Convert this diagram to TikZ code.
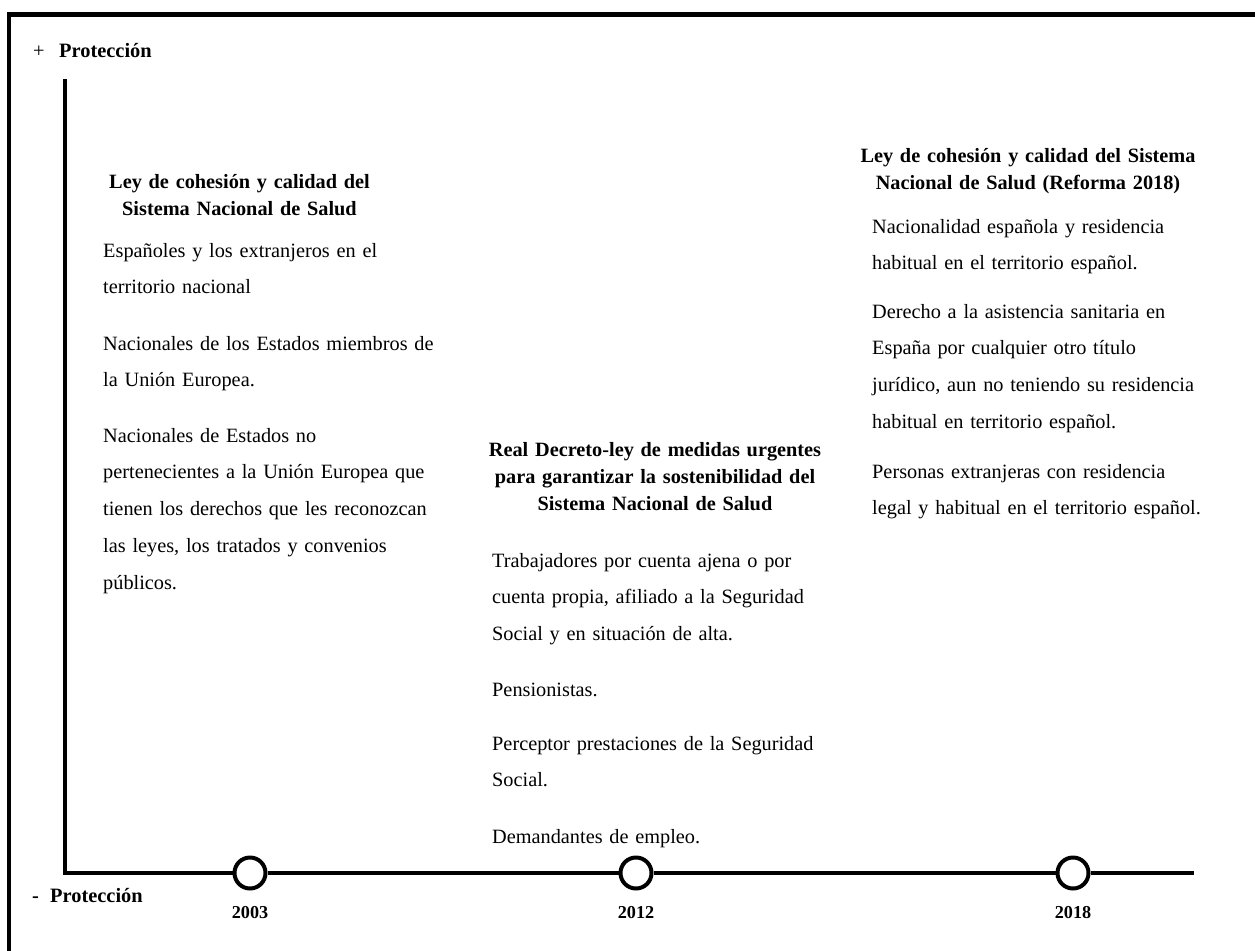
\documentclass[tikz,border=0pt]{standalone}
\usepackage{fontspec}
\setmainfont{Liberation Serif}
\tikzset{
  body/.style={anchor=base west, inner sep=0pt, text width=420pt, align=left,
    font=\fontsize{20.3}{36.8}\selectfont},
  head/.style={anchor=base, inner sep=0pt, text width=420pt, align=center,
    font=\fontsize{20.3}{27.3}\selectfont\bfseries},
  axislbl/.style={anchor=base west, inner sep=0pt, font=\fontsize{20.4}{24}\selectfont\bfseries},
  year/.style={anchor=base, inner sep=0pt, font=\fontsize{18.2}{22}\selectfont\bfseries},
  milestone/.style={circle, draw=black, fill=white, line width=4pt, minimum size=31pt, inner sep=0pt},
  axisline/.style={line width=4pt, line join=miter},
}
\begin{document}
\begin{tikzpicture}[x=1pt, y=-1pt]
\useasboundingbox (0,0) rectangle (1255,950);
% frame
\draw[line width=4.5pt] (9,960) -- (9,14.5) -- (1265,14.5);
% axis labels
\node[axislbl] (plus) at (33,58) {\fontseries{m}\selectfont +};
\node[axislbl] (ptop) at (59,58) {Protección};
\node[axislbl] (minus) at (32,902) {-};
\node[axislbl] (pbot) at (50,902) {Protección};
% axis
\coordinate (ytop) at (65,79);
\coordinate (corner) at (65,873);
\coordinate (xend) at (1194,873);
\node[milestone] (m2003) at (250,873) {};
\node[milestone] (m2012) at (636,873) {};
\node[milestone] (m2018) at (1073,873) {};
\draw[axisline] (ytop) -- (corner) -- (m2003.west);
\draw[axisline] (m2003.east) -- (m2012.west);
\draw[axisline] (m2012.east) -- (m2018.west);
\draw[axisline] (m2018.east) -- (xend);
\node[year] (y2003) at (250,918) {2003};
\node[year] (y2012) at (636,918) {2012};
\node[year] (y2018) at (1073,918) {2018};
% left column
\node[head] (h1) at (239.5,188) {Ley de cohesión y calidad del\\Sistema Nacional de Salud};
\node[body] (l1) at (103,257) {Españoles y los extranjeros en el\\territorio nacional};
\node[body] (l2) at (103,350) {Nacionales de los Estados miembros de\\la Unión Europea.};
\node[body] (l3) at (103,442) {Nacionales de Estados no\\pertenecientes a la Unión Europea que\\tienen los derechos que les reconozcan\\las leyes, los tratados y convenios\\públicos.};
% middle column
\node[head] (h2) at (655,456) {Real Decreto-ley de medidas urgentes\\para garantizar la sostenibilidad del\\Sistema Nacional de Salud};
\node[body] (c1) at (492,567) {Trabajadores por cuenta ajena o por\\cuenta propia, afiliado a la Seguridad\\Social y en situación de alta.};
\node[body] (c2) at (492,696) {Pensionistas.};
\node[body] (c3) at (492,750) {Perceptor prestaciones de la Seguridad\\Social.};
\node[body] (c4) at (492,843) {Demandantes de empleo.};
% right column
\node[head] (h3) at (1028,162) {Ley de cohesión y calidad del Sistema\\Nacional de Salud (Reforma 2018)};
\node[body] (r1) at (872,233) {Nacionalidad española y residencia\\habitual en el territorio español.};
\node[body] (r2) at (872,318) {Derecho a la asistencia sanitaria en\\España por cualquier otro título\\jurídico, aun no teniendo su residencia\\habitual en territorio español.};
\node[body] (r3) at (872,478) {Personas extranjeras con residencia\\legal y habitual en el territorio español.};
\end{tikzpicture}
\end{document}
